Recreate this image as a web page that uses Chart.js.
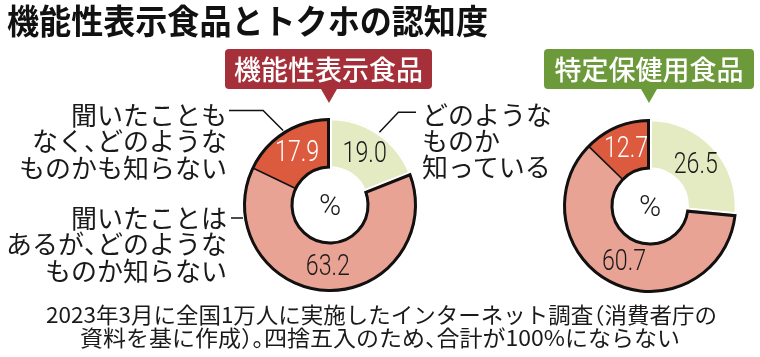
<!DOCTYPE html>
<html><head><meta charset="utf-8">
<script src="https://cdn.jsdelivr.net/npm/chart.js@4/dist/chart.umd.min.js"></script>
<style>
html,body{margin:0;padding:0;background:#fff;}
#wrap{position:relative;width:760px;height:357px;overflow:hidden;font-family:"Noto Sans CJK JP","Noto Sans",sans-serif;color:#1a1a1a;}
canvas{position:absolute;left:0;top:0;}
.t{position:absolute;white-space:nowrap;transform-origin:0 0;}
.p{font-feature-settings:"halt";}
.badge{position:absolute;color:#fff;border-radius:4px;text-align:center;font-weight:500;}
.badge:after{content:"";position:absolute;left:50%;bottom:-14px;margin-left:-8px;border-left:8px solid transparent;border-right:8px solid transparent;border-top:14px solid var(--c);}
</style>
</head>
<body>
<div id="wrap">
  <canvas id="c1" width="760" height="357"></canvas>
  <canvas id="c2" width="760" height="357"></canvas>
</div>
<script>
// ---- data ----
const titleText = '機能性表示食品とトクホの認知度';
const categories = [
  'どのようなものか知っている',
  '聞いたことはあるが、どのようなものか知らない',
  '聞いたこともなく、どのようなものかも知らない'
];
const categoryLines = [
  ['どのような', 'ものか', '知っている'],
  ['聞いたことは', 'あるが、どのような', 'ものか知らない'],
  ['聞いたことも', 'なく、どのような', 'ものかも知らない']
];
const chartNames = ['機能性表示食品', '特定保健用食品'];
const functionalFoodValues = [19.0, 63.2, 17.9];
const foshuValues = [26.5, 60.7, 12.7];
const unitLabel = '%';
const noteLines = [
  '2023年3月に全国1万人に実施したインターネット調査（消費者庁の',
  '資料を基に作成）。四捨五入のため、合計が100%にならない'
];

// ---- styles ----
const sliceColors = ['#e4ebc3', '#e9a394', '#dc5b3e'];
const numColors = ['#1a1a1a', '#1a1a1a', '#ffffff'];
const badgeColors = ['#a5303a', '#6c9a3a'];

const wrap = document.getElementById('wrap');

function fillText(d, str) {
  const parts = str.split(/([、。（）])/);
  parts.forEach(part => {
    if (!part) return;
    if (/^[、。（）]$/.test(part)) {
      const sp = document.createElement('span');
      sp.className = 'p';
      sp.textContent = part;
      d.appendChild(sp);
    } else {
      d.appendChild(document.createTextNode(part));
    }
  });
}

function addText(str, x, yc, o) {
  const d = document.createElement('div');
  d.className = 't';
  fillText(d, str);
  const fs = o.size;
  d.style.fontSize = fs + 'px';
  d.style.lineHeight = fs + 'px';
  d.style.fontWeight = o.weight || 400;
  d.style.color = o.color || '#1a1a1a';
  wrap.appendChild(d);
  const w = d.getBoundingClientRect().width;
  const sx = o.width ? o.width / w : (o.sx || 1);
  const ww = w * sx;
  let left = x;
  if (o.align === 'right') left = x - ww;
  else if (o.align === 'center') left = x - ww / 2;
  d.style.left = left + 'px';
  d.style.top = (yc - 0.556 * fs) + 'px';
  d.style.transform = 'scaleX(' + sx + ')';
  return d;
}

function addBadge(str, left, top, w, h, color) {
  const b = document.createElement('div');
  b.className = 'badge';
  b.style.left = left + 'px';
  b.style.top = top + 'px';
  b.style.width = w + 'px';
  b.style.height = h + 'px';
  b.style.background = color;
  b.style.setProperty('--c', color);
  b.style.fontSize = '27px';
  b.style.lineHeight = h + 'px';
  b.textContent = str;
  wrap.appendChild(b);
}

// title
addText(titleText, 7, 22, {size: 34, weight: 700, width: 481, color: '#111'});
// badges
addBadge(chartNames[0], 225, 49, 207, 40, badgeColors[0]);
addBadge(chartNames[1], 544, 49, 210, 40, badgeColors[1]);
// category labels
const lh = 26.5;
categoryLines[2].forEach((s, i) => addText(s, 227, 115 + i * lh, {size: 26, align: 'right'}));
categoryLines[1].forEach((s, i) => addText(s, 227, 218 + i * lh, {size: 26, align: 'right'}));
categoryLines[0].forEach((s, i) => addText(s, 422, 115 + i * 26, {size: 26, align: 'left'}));
// notes
addText(noteLines[0], 381, 314, {size: 22, align: 'center', width: 671});
addText(noteLines[1], 380, 337, {size: 22, align: 'center', width: 600});

// ---- plugin drawing outline, labels, leaders ----
function polar(x, y, r, a) { return {x: x + Math.cos(a) * r, y: y + Math.sin(a) * r}; }

const decoPlugin = {
  id: 'deco',
  afterDatasetsDraw(chart, args, opts) {
    const ctx = chart.ctx;
    const arcs = chart.getDatasetMeta(0).data;
    const values = chart.data.datasets[0].data;
    const p = arcs[1], r = arcs[2];
    const x = p.x, y = p.y, R = p.outerRadius, ri = p.innerRadius;
    ctx.save();
    // outline of the two "unknown" slices
    const s = p.startAngle, e = r.endAngle;
    const ro = R - 1.5, rin = ri + 1.5;
    ctx.beginPath();
    ctx.arc(x, y, ro, s + 1.5 / ro, e - 1.5 / ro);
    ctx.arc(x, y, rin, e - 1.5 / rin, s + 1.5 / rin, true);
    ctx.closePath();
    ctx.lineWidth = 3;
    ctx.lineJoin = 'miter';
    ctx.strokeStyle = '#111';
    ctx.stroke();
    // boundary between pink and red
    const b1 = polar(x, y, rin, r.startAngle), b2 = polar(x, y, ro, r.startAngle);
    ctx.beginPath();
    ctx.moveTo(b1.x, b1.y); ctx.lineTo(b2.x, b2.y);
    ctx.lineWidth = 1.6;
    ctx.stroke();

    // value labels
    ctx.textAlign = 'center';
    ctx.textBaseline = 'middle';
    arcs.forEach((a, i) => {
      const c = a.getCenterPoint();
      ctx.save();
      ctx.translate(c.x, c.y);
      ctx.scale(0.8, 1);
      ctx.font = '300 29px Roboto, "Liberation Sans", sans-serif';
      ctx.fillStyle = numColors[i];
      ctx.fillText(values[i].toFixed(1), 0, 1);
      ctx.restore();
    });
    ctx.font = '300 30px Roboto, "Liberation Sans", sans-serif';
    ctx.fillStyle = '#1a1a1a';
    ctx.fillText(unitLabel, x, y + 2);

    // leader lines
    if (opts.leaders) {
      ctx.strokeStyle = '#111';
      ctx.lineWidth = 1.5;
      // red slice (index 2)
      const m2 = (r.startAngle + r.endAngle) / 2;
      const e2 = polar(x, y, R + 1, m2);
      ctx.beginPath();
      ctx.moveTo(e2.x, e2.y);
      ctx.lineTo(e2.x - 20, e2.y - 20);
      ctx.lineTo(229, e2.y - 20);
      ctx.stroke();
      // green slice (index 0)
      const g = arcs[0];
      const m0 = (g.startAngle + g.endAngle) / 2;
      const e0 = polar(x, y, R + 1, m0);
      ctx.beginPath();
      ctx.moveTo(e0.x, e0.y);
      ctx.lineTo(e0.x + 19, e0.y - 20);
      ctx.lineTo(416, e0.y - 20);
      ctx.stroke();
      // pink slice (index 1)
      const ly = 218;
      const ex = x - Math.sqrt((R + 1) * (R + 1) - (ly - y) * (ly - y));
      ctx.beginPath();
      ctx.moveTo(ex, ly);
      ctx.lineTo(231, ly);
      ctx.stroke();
    }
    ctx.restore();
  }
};

function makeChart(id, values, padding, leaders) {
  return new Chart(document.getElementById(id), {
    type: 'doughnut',
    data: {
      labels: categories,
      datasets: [{
        data: values,
        backgroundColor: sliceColors,
        borderColor: ['#ffffff', 'rgba(0,0,0,0)', 'rgba(0,0,0,0)'],
        borderWidth: [2, 0, 0],
        borderAlign: 'inner'
      }]
    },
    options: {
      responsive: false,
      maintainAspectRatio: false,
      animation: false,
      cutout: '42%',
      rotation: 0,
      layout: {padding: padding},
      plugins: {
        legend: {display: false},
        tooltip: {enabled: false},
        deco: {leaders: leaders}
      }
    },
    plugins: [decoPlugin]
  });
}

makeChart('c1', functionalFoodValues, {left: 243, right: 343, top: 118, bottom: 65}, true);
makeChart('c2', foshuValues, {left: 563, right: 23, top: 119, bottom: 64}, false);
</script>
</body></html>
